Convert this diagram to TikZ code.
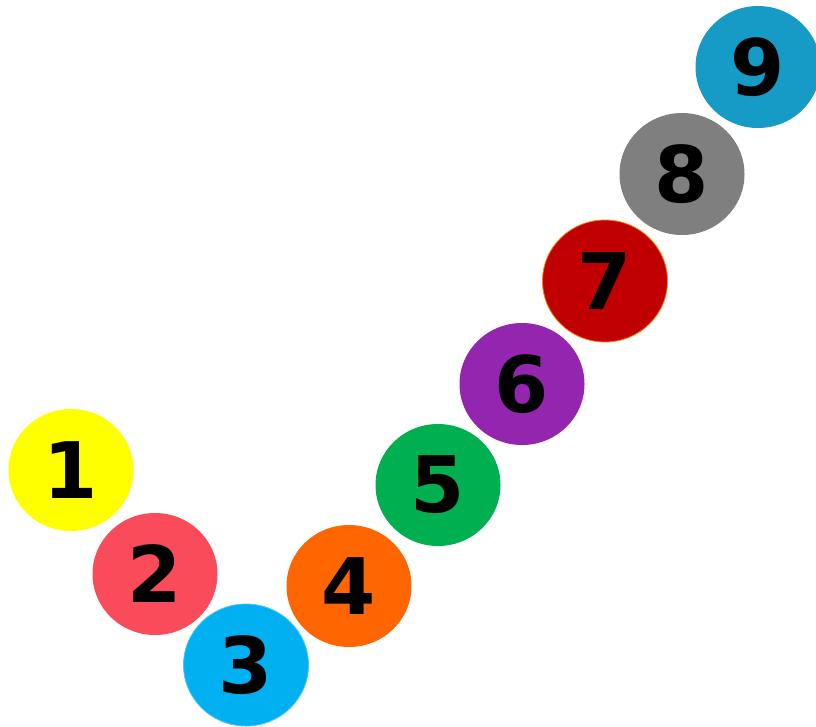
\documentclass[tikz,border=0pt]{standalone}
\usepackage{fontspec}
\usetikzlibrary{shapes.geometric}
\newfontfamily\digitfont{DejaVu Sans}
\definecolor{cOne}{HTML}{FFFF00}
\definecolor{cTwo}{HTML}{F94B5A}
\definecolor{cThree}{HTML}{00B0F0}
\definecolor{cFour}{HTML}{FF6600}
\definecolor{cFive}{HTML}{00B050}
\definecolor{cSix}{HTML}{9325AF}
\definecolor{cSeven}{HTML}{C00000}
\definecolor{cEight}{HTML}{7F7F7F}
\definecolor{cNine}{HTML}{169BC6}
\tikzset{
  ball/.style={ellipse,minimum width=125pt,minimum height=122pt,inner sep=0pt,
    font=\digitfont\bfseries\fontsize{78}{78}\selectfont,text=black}
}
\begin{document}
\begin{tikzpicture}[x=1pt,y=-1pt]
  \useasboundingbox (0,0) rectangle (816,726);
  \node[ball,fill=cOne] (b1) at (71,470) {1};
  \node[ball,fill=cTwo] (b2) at (155,574) {2};
  \node[ball,fill=cThree,draw=cThree!70!white,line width=0.8pt] (b3) at (246,665) {3};
  \node[ball,fill=cFour] (b4) at (349,586) {4};
  \node[ball,fill=cFive] (b5) at (438,485) {5};
  \node[ball,fill=cSix] (b6) at (522,384) {6};
  \node[ball,fill=cSeven,draw=orange,line width=0.8pt] (b7) at (605,281) {7};
  \node[ball,fill=cEight] (b8) at (682,174) {8};
  \node[ball,fill=cNine] (b9) at (758,67) {9};
\end{tikzpicture}
\end{document}
